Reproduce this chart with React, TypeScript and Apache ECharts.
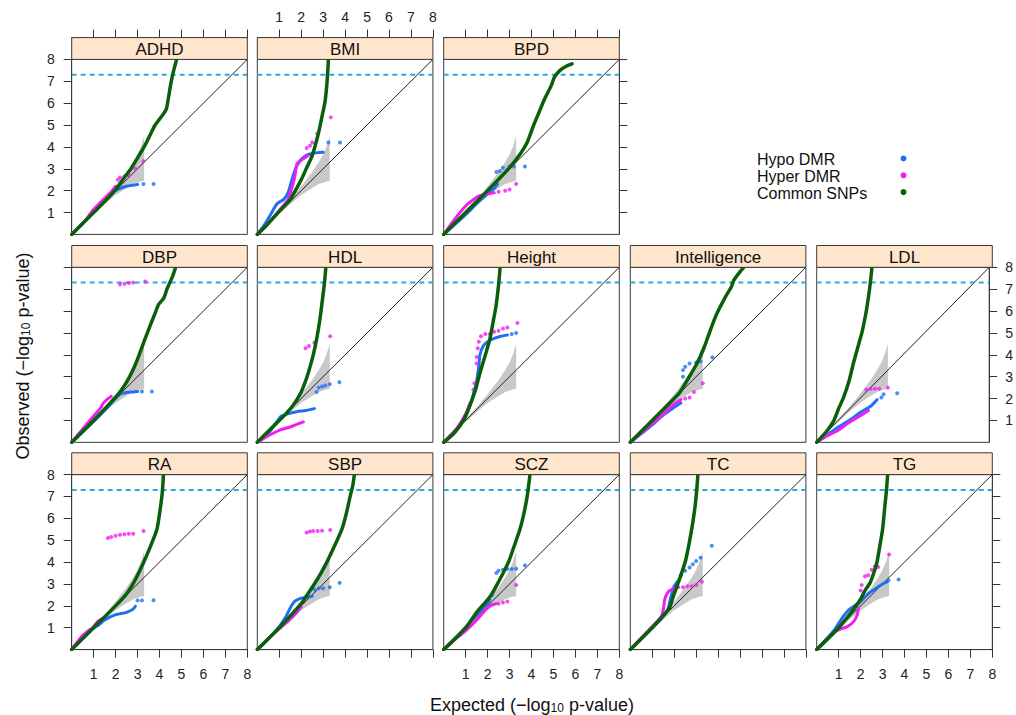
import React, { useEffect, useRef } from "react";
import * as echarts from "echarts";

// ---------- data ----------
const panelNames = ["ADHD", "BMI", "BPD", "DBP", "HDL", "Height", "Intelligence", "LDL", "RA", "SBP", "SCZ", "TC", "TG"];
const axisTicks = [1, 2, 3, 4, 5, 6, 7, 8];
const gwasThreshold = 7.3;
const legendLabels = ["Hypo DMR", "Hyper DMR", "Common SNPs"];

const bandUpper = [[0, 0], [0.5, 0.52], [1, 1.06], [1.5, 1.6], [2, 2.2], [2.5, 2.85], [2.8, 3.3], [3.0, 3.65], [3.15, 4.0], [3.3, 4.5]];
const bandLower = [[3.3, 2.45], [3.1, 2.4], [2.8, 2.3], [2.5, 2.12], [2, 1.8], [1.5, 1.38], [1, 0.93], [0.5, 0.46], [0, 0]];

// ADHD
const adhdSnp = [[0, 0], [1, 1], [1.5, 1.5], [2, 2.05], [2.4, 2.6], [2.7, 3.0], [3.0, 3.5], [3.3, 4.0], [3.6, 4.6], [3.8, 5.0], [4.1, 5.4], [4.3, 5.7], [4.4, 6.2], [4.5, 6.8], [4.6, 7.3], [4.7, 7.7], [4.78, 8.0]];
const adhdHypo = [[0, 0], [1, 1], [1.5, 1.55], [1.7, 1.8], [1.9, 1.95], [2.2, 2.1], [2.5, 2.2], [2.8, 2.25], [3.0, 2.28]];
const adhdHypoTail = [[3.27, 2.3], [3.73, 2.3]];
const adhdHyper = [[0, 0], [0.6, 0.6], [1.0, 1.15], [1.5, 1.65], [1.8, 1.95], [2.0, 2.2]];
const adhdHyperTail = [[2.1, 2.5], [2.2, 2.6], [2.4, 2.65], [2.6, 2.7], [2.9, 3.0], [3.27, 3.35]];
// BMI
const bmiSnp = [[0, 0], [0.5, 0.5], [1, 1.05], [1.5, 1.6], [2, 2.5], [2.25, 3.05], [2.5, 3.6], [2.78, 4.6], [2.95, 5.4], [3.09, 6.1], [3.18, 7.0], [3.24, 8.0]];
const bmiHypo = [[0, 0], [0.3, 0.4], [0.6, 0.9], [0.9, 1.4], [1.2, 1.6], [1.4, 1.9], [1.55, 2.4], [1.7, 2.9], [1.9, 3.3], [2.2, 3.6], [2.5, 3.7], [3.0, 3.75]];
const bmiHypoTail = [[3.24, 4.2], [3.77, 4.2]];
const bmiHyper = [[0, 0], [0.4, 0.4], [1.0, 1.1], [1.4, 1.6], [1.7, 2.6], [1.8, 3.2], [2.0, 3.4], [2.3, 3.6]];
const bmiHyperTail = [[2.25, 3.95], [2.4, 4.05], [2.5, 4.2], [2.73, 4.6], [3.35, 5.35]];
// BPD
const bpdSnp = [[0, 0], [1, 1], [2, 2], [3, 3.05], [3.5, 3.7], [3.8, 4.2], [4.1, 5.0], [4.35, 5.6], [4.6, 6.2], [4.9, 6.8], [5.05, 7.2], [5.3, 7.5], [5.6, 7.7], [5.85, 7.8]];
const bpdHypo = [[0, 0], [1, 0.9], [1.5, 1.4], [2, 1.85], [2.3, 2.1], [2.45, 2.3]];
const bpdHypoTail = [[2.4, 2.85], [2.55, 2.9], [2.7, 3.05], [3.0, 3.1], [3.2, 3.1], [3.7, 3.1]];
const bpdHyper = [[0, 0], [0.5, 0.7], [1, 1.3], [1.3, 1.55], [1.6, 1.75], [2.0, 1.85], [2.3, 1.9]];
const bpdHyperTail = [[2.5, 1.95], [2.8, 2.0], [3.0, 2.05], [3.3, 2.3]];
// DBP
const dbpSnp = [[0, 0], [1, 1], [1.8, 1.85], [2.2, 2.3], [2.5, 2.75], [2.74, 3.2], [3.0, 3.8], [3.35, 4.75], [3.6, 5.4], [3.8, 5.9], [3.96, 6.3], [4.2, 6.6], [4.34, 7.0], [4.6, 7.6], [4.72, 7.95]];
const dbpHypo = [[0, 0], [1, 0.95], [1.5, 1.45], [1.9, 1.9], [2.2, 2.2], [2.5, 2.28], [2.8, 2.3], [3.0, 2.32]];
const dbpHypoTail = [[3.2, 2.32], [3.65, 2.32]];
const dbpHyper = [[0, 0], [1, 1.2], [1.3, 1.55], [1.45, 1.8], [1.6, 1.95], [1.8, 2.1]];
const dbpHyperTail = [[2.2, 7.22], [2.4, 7.25], [2.6, 7.28], [2.8, 7.3], [3.35, 7.35]];
// HDL
const hdlSnp = [[0, 0], [0.8, 0.8], [1.3, 1.3], [1.64, 1.7], [2.0, 2.3], [2.2, 2.8], [2.33, 3.2], [2.55, 4.0], [2.71, 4.75], [2.85, 5.6], [2.94, 6.3], [3.05, 7.2], [3.12, 7.95]];
const hdlHypo = [[0, 0], [0.5, 0.4], [0.9, 0.95], [1.1, 1.2], [1.4, 1.3], [1.8, 1.4], [2.2, 1.45], [2.6, 1.54]];
const hdlHypoTail = [[2.7, 2.3], [2.8, 2.5], [2.95, 2.55], [3.1, 2.6], [3.3, 2.65], [3.74, 2.75]];
const hdlHyper = [[0, 0], [0.5, 0.3], [1.0, 0.55], [1.5, 0.7], [2.1, 0.93]];
const hdlHyperTail = [[2.2, 4.3], [2.35, 4.4], [2.6, 4.55], [3.32, 4.85]];
// Height
const heightSnp = [[0, 0], [0.5, 0.45], [0.9, 1.0], [1.2, 1.7], [1.45, 2.4], [1.66, 3.2], [1.9, 4.0], [2.11, 4.75], [2.25, 5.5], [2.39, 6.27], [2.5, 7.2], [2.57, 8.0]];
const heightHypo = [[0, 0], [0.6, 0.6], [1.0, 1.2], [1.3, 2.0], [1.5, 2.8], [1.6, 3.5], [1.65, 4.0], [1.8, 4.4], [2.0, 4.6], [2.3, 4.75], [2.6, 4.85], [2.9, 4.9]];
const heightHypoTail = [[3.1, 4.95], [3.3, 5.0]];
const heightHyper = [[0, 0], [0.6, 0.65], [1.0, 1.3], [1.2, 1.8]];
const heightHyperTail = [[1.35, 2.4], [1.4, 2.7], [1.5, 3.6], [1.5, 3.9], [1.55, 4.3], [1.6, 4.6], [1.7, 4.85], [1.9, 4.95], [2.1, 4.95], [2.3, 5.05], [2.5, 5.1], [2.7, 5.2], [2.9, 5.25], [3.36, 5.45]];
// Intelligence
const intelSnp = [[0, 0], [1, 1], [2, 2.0], [2.27, 2.3], [2.6, 2.85], [3.03, 3.59], [3.35, 4.3], [3.64, 5.11], [3.95, 5.9], [4.33, 6.64], [4.6, 7.1], [4.71, 7.4], [5.0, 7.8], [5.17, 8.0]];
const intelHypo = [[0, 0], [1, 0.8], [1.5, 1.25], [2.0, 1.6], [2.3, 1.8]];
const intelHypoTail = [[2.4, 3.0], [2.4, 3.3], [2.5, 3.45], [2.7, 3.6], [3.0, 3.65], [3.2, 3.7], [3.74, 3.89]];
const intelHyper = [[0, 0], [1, 0.85], [1.5, 1.3], [2.0, 1.75], [2.3, 1.95]];
const intelHyperTail = [[2.5, 2.0], [2.7, 2.05], [2.9, 2.3], [3.3, 2.7]];
// LDL
const ldlSnp = [[0, 0], [0.5, 0.55], [0.8, 1.0], [1.0, 1.5], [1.25, 2.06], [1.5, 2.8], [1.7, 3.6], [1.95, 4.5], [2.12, 5.11], [2.3, 6.0], [2.4, 6.64], [2.5, 7.4], [2.56, 8.0]];
const ldlHypo = [[0, 0], [0.5, 0.35], [1.0, 0.7], [1.5, 1.0], [2.0, 1.35], [2.5, 1.65], [2.8, 1.95]];
const ldlHypoTail = [[3.0, 2.05], [3.1, 2.2], [3.73, 2.24]];
const ldlHyper = [[0, 0], [0.5, 0.3], [1.0, 0.55], [1.5, 0.9], [2.0, 1.2], [2.4, 1.45]];
const ldlHyperTail = [[2.3, 2.4], [2.5, 2.45], [2.7, 2.45], [2.9, 2.45], [3.3, 2.5]];
// RA
const raSnp = [[0, 0], [1, 1], [2, 2], [2.5, 2.55], [2.82, 3.05], [3.05, 3.5], [3.27, 3.97], [3.5, 4.5], [3.7, 5.0], [3.88, 5.49], [4.0, 6.2], [4.11, 7.02], [4.15, 7.5], [4.18, 8.0]];
const raHypo = [[0, 0], [0.5, 0.6], [0.8, 0.9], [1.2, 1.1], [1.5, 1.35], [2.0, 1.6], [2.5, 1.7], [2.8, 1.85], [2.9, 1.98]];
const raHypoTail = [[3.0, 2.25], [3.2, 2.25], [3.73, 2.26]];
const raHyper = [[0, 0], [0.5, 0.65], [0.9, 0.95], [1.2, 1.3], [1.35, 1.4]];
const raHyperTail = [[1.65, 5.1], [1.8, 5.15], [2.0, 5.2], [2.2, 5.25], [2.4, 5.27], [2.6, 5.3], [2.8, 5.3], [3.27, 5.42]];
// SBP
const sbpSnp = [[0, 0], [1, 1], [2, 2.1], [2.25, 2.47], [2.6, 3.0], [2.9, 3.5], [3.17, 4.0], [3.5, 4.7], [3.86, 5.52], [4.05, 6.2], [4.24, 7.05], [4.35, 7.5], [4.42, 8.0]];
const sbpHypo = [[0, 0], [0.6, 0.6], [1.0, 1.05], [1.3, 1.5], [1.5, 1.9], [1.7, 2.2], [2.0, 2.35], [2.3, 2.4], [2.5, 2.45]];
const sbpHypoTail = [[2.6, 2.75], [2.8, 2.8], [3.0, 2.8], [3.3, 2.85], [3.75, 3.05]];
const sbpHyper = [[0, 0], [0.5, 0.5], [1.0, 0.95], [1.4, 1.3], [1.8, 1.7], [2.0, 1.95]];
const sbpHyperTail = [[2.25, 5.35], [2.4, 5.4], [2.55, 5.42], [2.75, 5.42], [2.95, 5.43], [3.32, 5.47]];
// SCZ
const sczSnp = [[0, 0], [1, 1], [1.5, 1.71], [1.8, 2.05], [2.15, 2.47], [2.5, 3.1], [2.95, 4.0], [3.2, 4.7], [3.48, 5.52], [3.65, 6.2], [3.81, 7.05], [3.93, 8.0]];
const sczHypo = [[0, 0], [1, 1], [1.5, 1.6], [1.8, 1.9], [2.0, 2.1], [2.1, 2.3]];
const sczHypoTail = [[2.2, 2.5], [2.4, 3.5], [2.5, 3.6], [2.7, 3.65], [2.9, 3.68], [3.1, 3.68], [3.3, 3.7], [3.7, 3.85]];
const sczHyper = [[0, 0], [0.5, 0.45], [1.0, 0.85], [1.5, 1.35], [1.8, 1.7], [2.1, 2.0], [2.4, 2.1]];
const sczHyperTail = [[2.5, 2.1], [2.7, 2.15], [2.9, 2.2], [3.3, 2.95]];
// TC
const tcSnp = [[0, 0], [1, 1], [1.5, 1.55], [1.8, 1.95], [1.97, 2.47], [2.2, 3.1], [2.5, 4.0], [2.65, 4.7], [2.8, 5.52], [2.92, 6.3], [3.0, 7.0], [3.08, 8.0]];
const tcHypo = [[0, 0], [1, 1], [1.4, 1.4], [1.7, 1.8], [1.8, 2.2], [1.9, 2.6], [2.0, 2.9], [2.19, 3.16]];
const tcHypoTail = [[2.3, 3.4], [2.5, 3.6], [2.7, 3.75], [2.85, 3.9], [3.0, 4.05], [3.2, 4.2], [3.71, 4.75]];
const tcHyper = [[0, 0], [0.8, 0.85], [1.4, 1.5], [1.5, 1.8], [1.57, 2.3], [1.7, 2.6], [1.8, 2.7], [2.0, 2.8], [2.2, 2.85]];
const tcHyperTail = [[2.4, 2.85], [2.6, 2.9], [2.8, 2.9], [3.0, 2.95], [3.26, 3.1]];
// TG
const tgSnp = [[0, 0], [1, 1], [1.67, 1.83], [2.0, 2.3], [2.2, 2.7], [2.43, 3.05], [2.6, 3.5], [2.74, 3.97], [2.87, 4.7], [3.0, 5.49], [3.1, 6.5], [3.18, 7.3], [3.23, 8.0]];
const tgHypo = [[0, 0], [0.5, 0.55], [0.8, 0.9], [1.0, 1.2], [1.2, 1.5], [1.5, 1.85], [1.8, 2.05], [2.1, 2.3], [2.4, 2.6], [2.7, 2.8], [3.0, 3.0], [3.2, 3.1]];
const tgHypoTail = [[3.27, 3.17], [3.73, 3.2]];
const tgHyper = [[0, 0], [0.8, 0.8], [1.1, 0.95], [1.4, 1.05], [1.7, 1.3], [1.85, 1.6], [1.9, 1.9]];
const tgHyperTail = [[2.0, 2.7], [2.05, 2.95], [2.2, 3.35], [2.35, 3.4], [2.5, 3.65], [2.65, 3.8], [2.8, 3.78], [3.3, 4.35]];

const panelSeries: Record<string, any> = {
  ADHD: { snp: adhdSnp, hypo: adhdHypo, hypoTail: adhdHypoTail, hyper: adhdHyper, hyperTail: adhdHyperTail },
  BMI: { snp: bmiSnp, hypo: bmiHypo, hypoTail: bmiHypoTail, hyper: bmiHyper, hyperTail: bmiHyperTail },
  BPD: { snp: bpdSnp, hypo: bpdHypo, hypoTail: bpdHypoTail, hyper: bpdHyper, hyperTail: bpdHyperTail },
  DBP: { snp: dbpSnp, hypo: dbpHypo, hypoTail: dbpHypoTail, hyper: dbpHyper, hyperTail: dbpHyperTail },
  HDL: { snp: hdlSnp, hypo: hdlHypo, hypoTail: hdlHypoTail, hyper: hdlHyper, hyperTail: hdlHyperTail },
  Height: { snp: heightSnp, hypo: heightHypo, hypoTail: heightHypoTail, hyper: heightHyper, hyperTail: heightHyperTail },
  Intelligence: { snp: intelSnp, hypo: intelHypo, hypoTail: intelHypoTail, hyper: intelHyper, hyperTail: intelHyperTail },
  LDL: { snp: ldlSnp, hypo: ldlHypo, hypoTail: ldlHypoTail, hyper: ldlHyper, hyperTail: ldlHyperTail },
  RA: { snp: raSnp, hypo: raHypo, hypoTail: raHypoTail, hyper: raHyper, hyperTail: raHyperTail },
  SBP: { snp: sbpSnp, hypo: sbpHypo, hypoTail: sbpHypoTail, hyper: sbpHyper, hyperTail: sbpHyperTail },
  SCZ: { snp: sczSnp, hypo: sczHypo, hypoTail: sczHypoTail, hyper: sczHyper, hyperTail: sczHyperTail },
  TC: { snp: tcSnp, hypo: tcHypo, hypoTail: tcHypoTail, hyper: tcHyper, hyperTail: tcHyperTail },
  TG: { snp: tgSnp, hypo: tgHypo, hypoTail: tgHypoTail, hyper: tgHyper, hyperTail: tgHyperTail },
};

// ---------- layout / style ----------
const FONT = "'Liberation Sans', Arial, Helvetica, sans-serif";
const COL_HYPO = "#1f6ff0";
const COL_HYPER = "#f01ef0";
const COL_SNP = "#0a600a";
const COL_DASH = "#2fa8dc";
const COL_BAND = "#c8c8c8";
const COL_STRIP = "#ffe5cc";
const COL_FRAME = "#3a3a3a";

const colLeft = [71.7, 257.3, 443.7, 630.3, 816.7];
const panelW = 175.6;
const rowTop = [59.4, 267.3, 474.6];
const panelH = 175;
const stripH = 21.8;
const tickLen = 8;
// panel index -> [row, col]
const cellOf = (i: number): [number, number] => (i < 3 ? [0, i] : [Math.floor((i - 3) / 5) + 1, (i - 3) % 5]);
const lastInRow = (row: number, col: number) => (row === 0 ? col === 2 : col === 4);

export default function App() {
  const ref = useRef<HTMLDivElement>(null);
  useEffect(() => {
    if (!ref.current) return;
    const chart = echarts.init(ref.current, null, { renderer: "svg" });
    const grids: any[] = [];
    const xAxes: any[] = [];
    const yAxes: any[] = [];
    const series: any[] = [];
    const graphics: any[] = [];
    const bandPolygon = [...bandUpper, ...bandLower];

    const tickStyle = { show: true, length: tickLen, inside: false, lineStyle: { color: "#333", width: 1 }, customValues: axisTicks };
    const lineOn = { show: true, onZero: false, lineStyle: { color: COL_FRAME, width: 1 } };
    const labelStyle = (visible: boolean, margin: number) => ({
      show: true,
      margin,
      fontSize: 14,
      color: "#222",
      fontFamily: FONT,
      customValues: axisTicks,
      formatter: (v: number) => (visible ? String(v) : ""),
    });

    panelNames.forEach((name, i) => {
      const [row, col] = cellOf(i);
      const left = colLeft[col];
      const top = rowTop[row];
      grids.push({ left, top, width: panelW, height: panelH, show: true, borderColor: COL_FRAME, borderWidth: 1, backgroundColor: "transparent", containLabel: false });
      const xBase = { gridIndex: i, type: "value", min: 0, max: 8, interval: 1, splitLine: { show: false } };
      if (row === 0) {
        xAxes.push({ ...xBase, position: "top", offset: stripH, axisLine: lineOn, axisTick: tickStyle, axisLabel: labelStyle(col === 1, 14) });
      } else if (row === 2) {
        xAxes.push({ ...xBase, position: "bottom", axisLine: lineOn, axisTick: tickStyle, axisLabel: labelStyle(col % 2 === 0, 17) });
      } else {
        xAxes.push({ ...xBase, axisLine: { show: false }, axisTick: { show: false }, axisLabel: { show: false } });
      }
      const yBase = { gridIndex: i, type: "value", min: 0, max: 8, interval: 1, splitLine: { show: false } };
      if (col === 0) {
        yAxes.push({ ...yBase, position: "left", axisLine: lineOn, axisTick: tickStyle, axisLabel: labelStyle(row !== 1, 17) });
      } else if (lastInRow(row, col)) {
        yAxes.push({ ...yBase, position: "right", axisLine: lineOn, axisTick: tickStyle, axisLabel: labelStyle(row === 1, 16) });
      } else {
        yAxes.push({ ...yBase, axisLine: { show: false }, axisTick: { show: false }, axisLabel: { show: false } });
      }

      // strip
      graphics.push({
        type: "rect",
        shape: { x: left, y: top - stripH, width: panelW, height: stripH },
        style: { fill: COL_STRIP, stroke: COL_FRAME, lineWidth: 1 },
        z: 10,
      });
      graphics.push({
        type: "text",
        x: left + panelW / 2,
        y: top - stripH / 2 + 1,
        style: { text: name, fontSize: 17, fontFamily: FONT, fill: "#111", align: "center", verticalAlign: "middle" },
        z: 11,
      });

      const d = panelSeries[name];
      const axisRef = { xAxisIndex: i, yAxisIndex: i };
      series.push({
        type: "custom",
        ...axisRef,
        silent: true,
        z: 1,
        data: [[0, 0]],
        renderItem: (_p: any, api: any) => ({
          type: "polygon",
          shape: { points: bandPolygon.map((pt) => api.coord(pt)) },
          style: { fill: COL_BAND },
        }),
      });
      series.push({ type: "line", ...axisRef, silent: true, z: 2, symbol: "none", data: [[0, 0], [8, 8]], lineStyle: { color: "#222", width: 1 } });
      series.push({ type: "line", ...axisRef, silent: true, z: 2, symbol: "none", data: [[0, gwasThreshold], [8, gwasThreshold]], lineStyle: { color: COL_DASH, width: 2, type: [5, 4] } });
      const lineSeries = (data: number[][], color: string, width: number, z: number, smooth: number) => ({
        type: "line", ...axisRef, silent: true, z, symbol: "none", data, smooth,
        lineStyle: { color, width, cap: "round", join: "round" },
      });
      const dotSeries = (data: number[][], color: string, z: number) => ({
        type: "scatter", ...axisRef, silent: true, z, symbol: "circle", symbolSize: 4, data,
        itemStyle: { color },
      });
      series.push(lineSeries(d.hypo, COL_HYPO, 3, 3, 0.2));
      series.push(lineSeries(d.hyper, COL_HYPER, 3, 3, 0.2));
      series.push(dotSeries(d.hypoTail, COL_HYPO, 3));
      series.push(dotSeries(d.hyperTail, COL_HYPER, 3));
      series.push(lineSeries(d.snp, COL_SNP, 3.5, 4, 0.25));
    });

    // legend
    const legendColors = [COL_HYPO, COL_HYPER, COL_SNP];
    legendLabels.forEach((lab, k) => {
      const y = 159.5 + k * 16.8;
      graphics.push({ type: "text", x: 757, y, style: { text: lab, fontSize: 16, lineHeight: 16, fontFamily: FONT, fill: "#111", align: "left", verticalAlign: "middle" } });
      graphics.push({ type: "circle", shape: { cx: 903.5, cy: y - 1, r: 3 }, style: { fill: legendColors[k] } });
    });

    // axis titles
    const rich = {
      n: { fontSize: 18, fontFamily: FONT, fill: "#111", lineHeight: 22, verticalAlign: "bottom" },
      s: { fontSize: 12, fontFamily: FONT, fill: "#111", lineHeight: 12, verticalAlign: "bottom" },
    };
    graphics.push({
      type: "text", x: 532, y: 703,
      style: { text: "{n|Expected (−log}{s|10}{n| p-value)}", rich, align: "center", verticalAlign: "middle", fontFamily: FONT },
    });
    graphics.push({
      type: "text", x: 21, y: 356, rotation: Math.PI / 2,
      style: { text: "{n|Observed (−log}{s|10}{n| p-value)}", rich, align: "center", verticalAlign: "middle", fontFamily: FONT },
    });

    chart.setOption({
      animation: false,
      backgroundColor: "#ffffff",
      textStyle: { fontFamily: FONT },
      grid: grids,
      xAxis: xAxes,
      yAxis: yAxes,
      series,
      graphic: { elements: graphics },
    });
    return () => chart.dispose();
  }, []);

  return <div ref={ref} style={{ position: "fixed", left: 0, top: 0, width: 1016, height: 715, background: "#fff" }} />;
}
